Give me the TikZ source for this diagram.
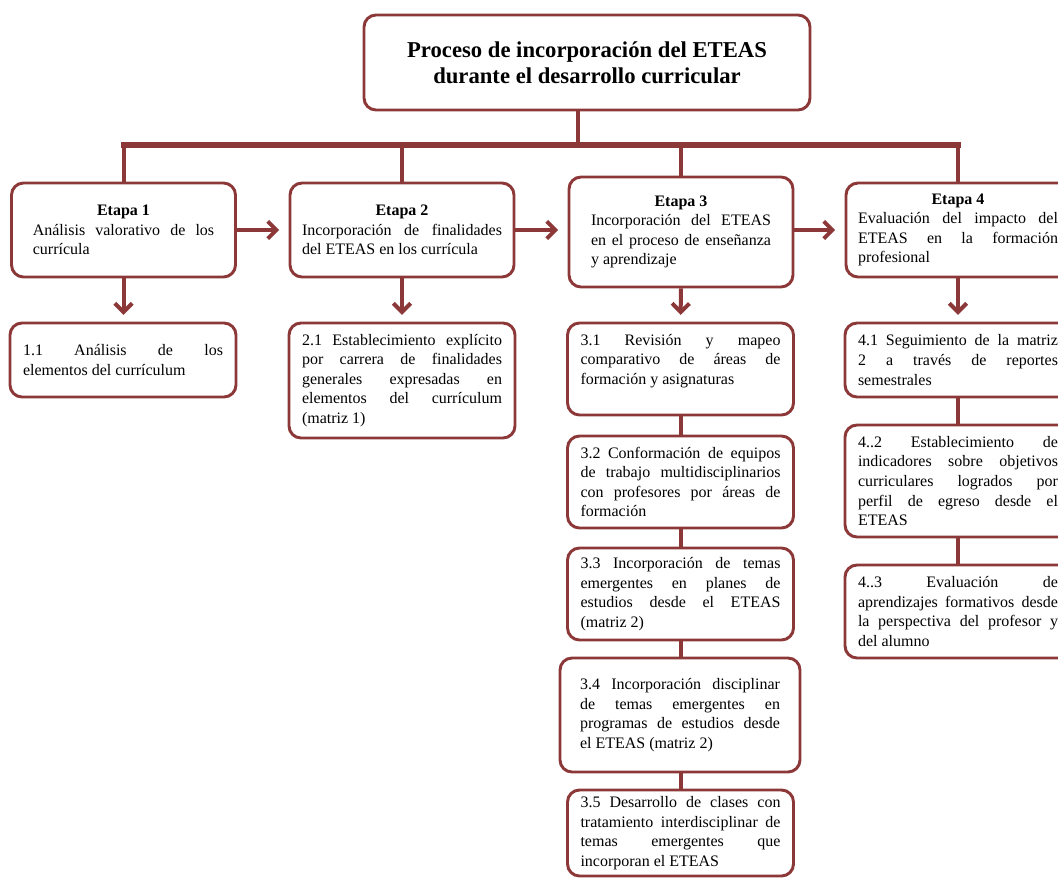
\documentclass[tikz,border=0pt]{standalone}
\usepackage{fontspec}
\setmainfont{Liberation Serif}
\usetikzlibrary{arrows.meta}
\definecolor{wine}{RGB}{140,56,56}
\hyphenpenalty=10000
\tikzset{
  box/.style={draw=wine, line width=2.2pt, rounded corners=9pt, fill=white,
    font=\fontsize{12}{14.7}\selectfont},
  stagebox/.style={box, align=justify, minimum height=70.5pt},
  subbox/.style={box, align=justify, text width=150pt, inner xsep=9.75pt},
  link/.style={draw=wine, line width=3pt},
  bar/.style={draw=wine, line width=3.8pt, line cap=rect},
  arr/.style={link, -{Straight Barb[length=6.5pt,width=13pt]}},
}
\newcommand{\etapa}[1]{{\centering\bfseries Etapa #1\par}}

\begin{document}
\begin{tikzpicture}[x=0.75pt, y=-0.75pt]
    \clip (0,0) rectangle (1058,878);
    \node[box, align=center, minimum width=334.5pt, minimum height=71.25pt,
      font=\bfseries\fontsize{17}{19.5}\selectfont] at (587,62.5) (title)
      {Proceso de incorporación del ETEAS\\durante el desarrollo curricular};
    \coordinate (hub) at (578,145);

    % etapas
    \node[stagebox, text width=136pt, inner xsep=16pt] at (123.5,230) (E1)
      {\etapa{1}Análisis valorativo de los\linebreak currícula};
    \node[stagebox, text width=150pt, inner xsep=9pt] at (402,230) (E2)
      {\etapa{2}Incorporación de finalidades\linebreak del ETEAS en los currícula};
    \node[stagebox, text width=135pt, inner xsep=16.5pt, minimum height=82.5pt] at (681,232) (E3)
      {\etapa{3}Incorporación del ETEAS\linebreak en el proceso de enseñanza\linebreak y aprendizaje};
    \node[stagebox, text width=150pt, inner xsep=9pt] at (958,230) (E4)
      {\etapa{4}Evaluación del impacto del\linebreak ETEAS en la formación\linebreak profesional};

    % pasos
    \node[subbox, minimum height=55.5pt] at (123,360) (S11)
      {1.1 Análisis de los\linebreak elementos del currículum};
    \node[subbox, minimum height=86.25pt] at (402,380.5) (S21)
      {2.1 Establecimiento explícito\linebreak por carrera de finalidades\linebreak generales expresadas en\linebreak elementos del currículum\linebreak (matriz 1)};
    \node[subbox, minimum height=69pt] at (680.5,369) (S31)
      {3.1 Revisión y mapeo\linebreak comparativo de áreas de\linebreak formación y asignaturas\par\mbox{}};
    \node[subbox, minimum height=69pt] at (680.5,482) (S32)
      {3.2 Conformación de equipos\linebreak de trabajo multidisciplinarios\linebreak con profesores por áreas de\linebreak formación};
    \node[subbox, minimum height=69pt] at (680.5,594) (S33)
      {3.3 Incorporación de temas\linebreak emergentes en planes de\linebreak estudios desde el ETEAS\linebreak (matriz 2)};
    \node[subbox, inner xsep=15pt, minimum height=85.5pt] at (680,715) (S34)
      {3.4 Incorporación disciplinar\linebreak de temas emergentes en\linebreak programas de estudios desde\linebreak el ETEAS (matriz 2)};
    \node[subbox, minimum height=64.5pt] at (680.5,833) (S35)
      {3.5 Desarrollo de clases con\linebreak tratamiento interdisciplinar de\linebreak temas emergentes que\linebreak incorporan el ETEAS};
    \node[subbox, minimum height=55.5pt] at (958,360) (S41)
      {4.1 Seguimiento de la matriz\linebreak 2 a través de reportes\linebreak semestrales};
    \node[subbox, minimum height=84pt] at (958,481) (S42)
      {4..2 Establecimiento de\linebreak indicadores sobre objetivos\linebreak curriculares logrados por\linebreak perfil de egreso desde el\linebreak ETEAS};
    \node[subbox, minimum height=69.75pt] at (958,611.5) (S43)
      {4..3 Evaluación de\linebreak aprendizajes formativos desde\linebreak la perspectiva del profesor y\linebreak del alumno};

    % ramas
    \draw [link] (title.south -| hub) -- (hub);
    \draw [bar] (E1.north |- hub) -- (E4.north |- hub);
    \foreach \e in {E1,E2,E3,E4}
      \draw [link] (\e.north |- hub) -- (\e.north);
    \draw [arr, shorten >=7pt] (E1.east) -- (E2.west);
    \draw [arr, shorten >=7pt] (E2.east) -- (E2.east -| E3.west);
    \draw [arr, shorten >=7pt] (E3.east |- E4.west) -- (E4.west);
    \draw [arr, shorten >=5pt] (E1.south) -- (E1.south |- S11.north);
    \draw [arr, shorten >=5pt] (E2.south) -- (S21.north);
    \draw [arr, shorten >=5pt] (E3.south) -- (S31.north);
    \draw [arr, shorten >=5pt] (E4.south) -- (S41.north);
    \draw [link] (S31.south) -- (S32.north);
    \draw [link] (S32.south) -- (S33.north);
    \draw [link] (S33.south) -- (S33.south |- S34.north);
    \draw [link] (S33.south |- S34.south) -- (S35.north);
    \draw [link] (S41.south) -- (S42.north);
    \draw [link] (S42.south) -- (S43.north);
\end{tikzpicture}
\end{document}
